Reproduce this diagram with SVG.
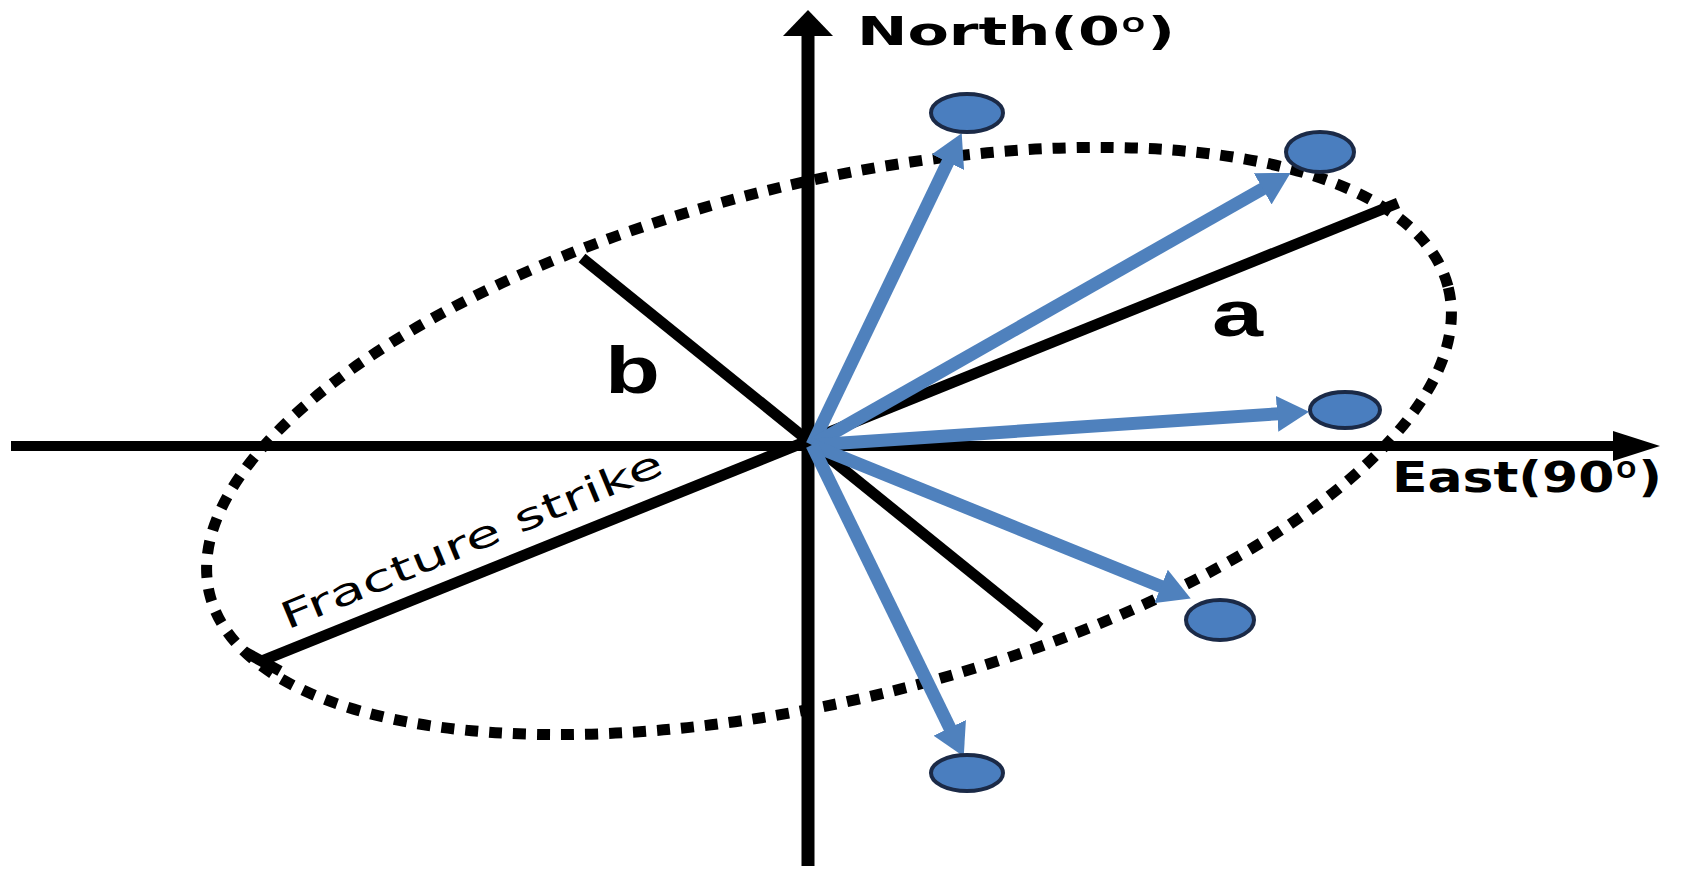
<svg xmlns="http://www.w3.org/2000/svg" width="1695" height="869" viewBox="0 0 1695 869">
<style>
.axis{stroke:#000;fill:none}
.bold{font-family:"DejaVu Sans","Liberation Sans",sans-serif;font-weight:bold;fill:#000}
.deg{font-family:Roboto,"Liberation Sans",sans-serif;font-weight:bold}
.vec{stroke:#4f81bd;stroke-width:13;fill:none;marker-end:url(#head)}
.pt{fill:#4a7ebf;stroke:#1b2a47;stroke-width:4}
.ax{stroke:#000;stroke-width:11;fill:none}
</style>
<defs>
<marker id="head" viewBox="0 -18 32 36" refX="2" refY="0" markerWidth="32" markerHeight="36" markerUnits="userSpaceOnUse" orient="auto">
<path d="M0,-18 L32,0 L0,18 Z" fill="#4f81bd"/>
</marker>
</defs>
<rect width="1695" height="869" fill="#fff"/>

<g id="ellipse">
<ellipse cx="829" cy="441" rx="638" ry="258" transform="rotate(-13.9 829 441)" fill="none" stroke="#000" stroke-width="11" stroke-dasharray="13 11"/>
</g>

<g id="axes">
<line class="axis" x1="808" y1="866" x2="808" y2="32" stroke-width="13"/>
<path d="M783,36 L808,10 L833,36 Z" fill="#000"/>
<line class="axis" x1="11" y1="446" x2="1616" y2="446" stroke-width="10"/>
<path d="M1613,431 L1660,446 L1613,461 Z" fill="#000"/>
</g>

<g id="ellipse-axes">
<line class="ax" x1="259" y1="662" x2="1398" y2="203"/>
<line class="ax" x1="245" y1="652" x2="280" y2="671"/>
<line class="ax" x1="582" y1="258" x2="1040" y2="628"/>
</g>

<g id="connectors">
<line class="vec" x1="812" y1="445" x2="948.7" y2="160.4"/>
<line class="vec" x1="812" y1="445" x2="1264.4" y2="187.8"/>
<line class="vec" x1="812" y1="445" x2="1279.1" y2="413.7"/>
<line class="vec" x1="812" y1="445" x2="1162.9" y2="587.2"/>
<line class="vec" x1="812" y1="445" x2="950.6" y2="729.6"/>
</g>

<g id="point1"><ellipse class="pt" cx="967" cy="113" rx="36" ry="19"/></g>
<g id="point2"><ellipse class="pt" cx="1320" cy="152" rx="34" ry="20"/></g>
<g id="point3"><ellipse class="pt" cx="1345" cy="410" rx="35" ry="18"/></g>
<g id="point4"><ellipse class="pt" cx="1220" cy="620" rx="34" ry="20"/></g>
<g id="point5"><ellipse class="pt" cx="967" cy="773" rx="36" ry="18"/></g>

<g id="labels">
<text class="bold" x="857" y="45" font-size="39" textLength="318" lengthAdjust="spacingAndGlyphs">North(0<tspan class="deg">º</tspan>)</text>
<text class="bold" x="1392" y="492" font-size="43" textLength="270" lengthAdjust="spacingAndGlyphs">East(90<tspan class="deg">º</tspan>)</text>
<text x="1212" y="336" font-family="Liberation Sans, Arial, sans-serif" font-weight="bold" font-size="65" textLength="51" lengthAdjust="spacingAndGlyphs">a</text>
<text x="605" y="393" font-family="Liberation Sans, Arial, sans-serif" font-weight="bold" font-size="67" textLength="55" lengthAdjust="spacingAndGlyphs">b</text>
<text transform="translate(287,630) rotate(-22.5)" x="0" y="0" font-family="DejaVu Sans, Verdana, sans-serif" font-size="37" textLength="410" lengthAdjust="spacingAndGlyphs">Fracture strike</text>
</g>
</svg>
